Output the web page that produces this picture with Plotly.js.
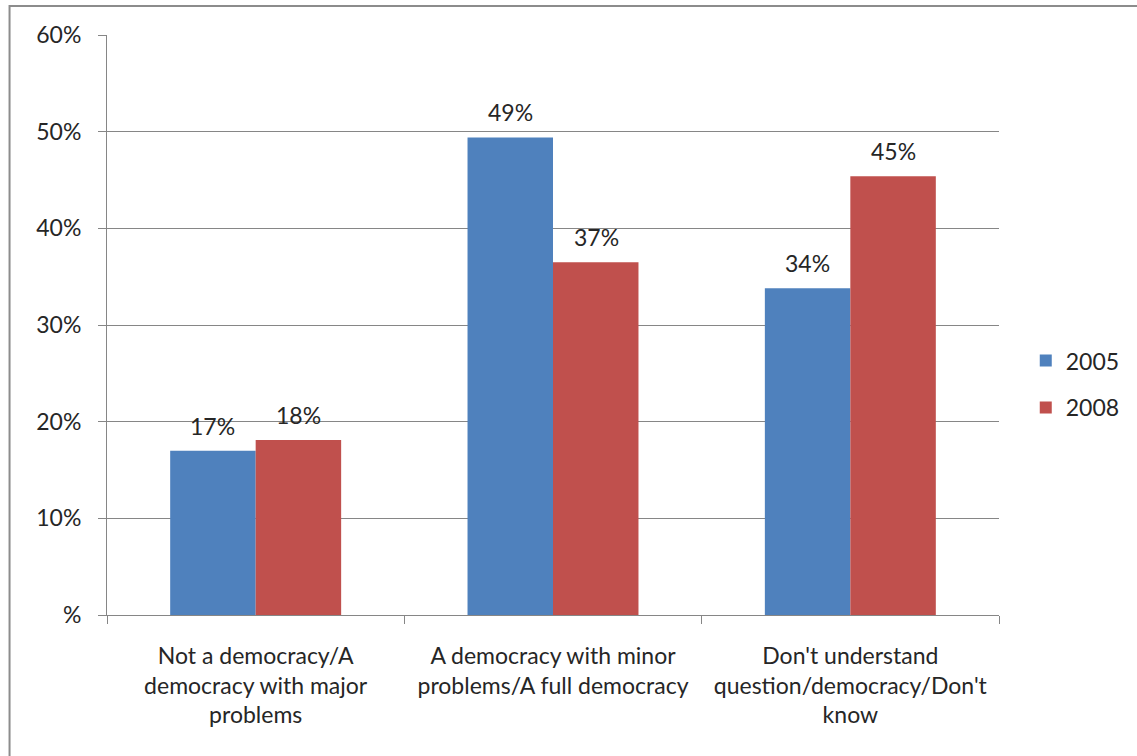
<!DOCTYPE html>
<html>
<head>
<meta charset="utf-8">
<script src="https://cdn.plot.ly/plotly-3.0.1.min.js"></script>
<style>
html,body{margin:0;padding:0;background:#fff;}
#chart{width:1137px;height:756px;}
</style>
</head>
<body>
<div id="chart"></div>
<script>
const categories = [
  "Not a democracy/A<br>democracy with major<br>problems",
  "A democracy with minor<br>problems/A full democracy",
  "Don't understand<br>question/democracy/Don't<br>know"
];
const values2005 = [17.0, 49.4, 33.8];
const values2008 = [18.1, 36.5, 45.4];
const labels2005 = ["17%", "49%", "34%"];
const labels2008 = ["18%", "37%", "45%"];
const tickVals = [0, 10, 20, 30, 40, 50, 60];
const tickText = ["%", "10%", "20%", "30%", "40%", "50%", "60%"];

const font = "Lato, 'Open Sans', sans-serif";
const textColor = "#262626";
const fs = 23;
const halfBarPx = 43;

const traces = [
  {type: "bar", name: "2005", legendgroup: "a", x: categories, y: values2005,
   marker: {color: "#4f81bd"}, hoverinfo: "skip"},
  {type: "bar", name: "2008", legendgroup: "b", x: categories, y: values2008,
   marker: {color: "#c0504d"}, hoverinfo: "skip"}
];

const annotations = [];
categories.forEach((c, i) => {
  annotations.push({x: c, y: values2005[i], text: labels2005[i], xref: "x", yref: "y",
    showarrow: false, xanchor: "center", yanchor: "bottom", xshift: -halfBarPx, yshift: 9,
    font: {size: fs, color: textColor, family: font}});
  annotations.push({x: c, y: values2008[i], text: labels2008[i], xref: "x", yref: "y",
    showarrow: false, xanchor: "center", yanchor: "bottom", xshift: halfBarPx, yshift: 9,
    font: {size: fs, color: textColor, family: font}});
});

const layout = {
  width: 1137, height: 756,
  margin: {l: 107, r: 133, t: 35, b: 141, pad: 0},
  paper_bgcolor: "#fff", plot_bgcolor: "#fff",
  font: {family: font, size: fs, color: textColor},
  barmode: "group", bargap: 0.425, bargroupgap: 0,
  showlegend: true,
  legend: {x: 1.03, y: 0.398, xanchor: "left", yanchor: "middle", traceorder: "grouped",
           font: {size: fs, color: textColor, family: font}, tracegroupgap: 14,
           itemwidth: 30},
  xaxis: {type: "category", showline: true, linecolor: "#868686", linewidth: 1,
          ticks: "outside", tickson: "boundaries", ticklen: 8, tickcolor: "#868686",
          ticklabelstandoff: 20,
          showgrid: false, tickfont: {size: fs, color: textColor, family: font}, fixedrange: true},
  yaxis: {range: [0, 60], tickvals: tickVals, ticktext: tickText,
          showline: true, linecolor: "#868686", linewidth: 1,
          ticks: "outside", ticklen: 8, tickcolor: "#868686", ticklabelstandoff: 12,
          showgrid: true, gridcolor: "#868686", gridwidth: 1, zeroline: false,
          tickfont: {size: fs, color: textColor, family: font}, fixedrange: true},
  annotations: annotations,
  shapes: [{type: "rect", xref: "paper", yref: "paper",
            x0: (9 - 107) / 897, x1: (1145 - 107) / 897,
            y0: (615 - 765) / 580, y1: (615 - 6) / 580,
            line: {color: "#8c8c8c", width: 2}, fillcolor: "rgba(0,0,0,0)", layer: "below"}]
};

Plotly.newPlot("chart", traces, layout, {displayModeBar: false, staticPlot: true});
</script>
</body>
</html>
